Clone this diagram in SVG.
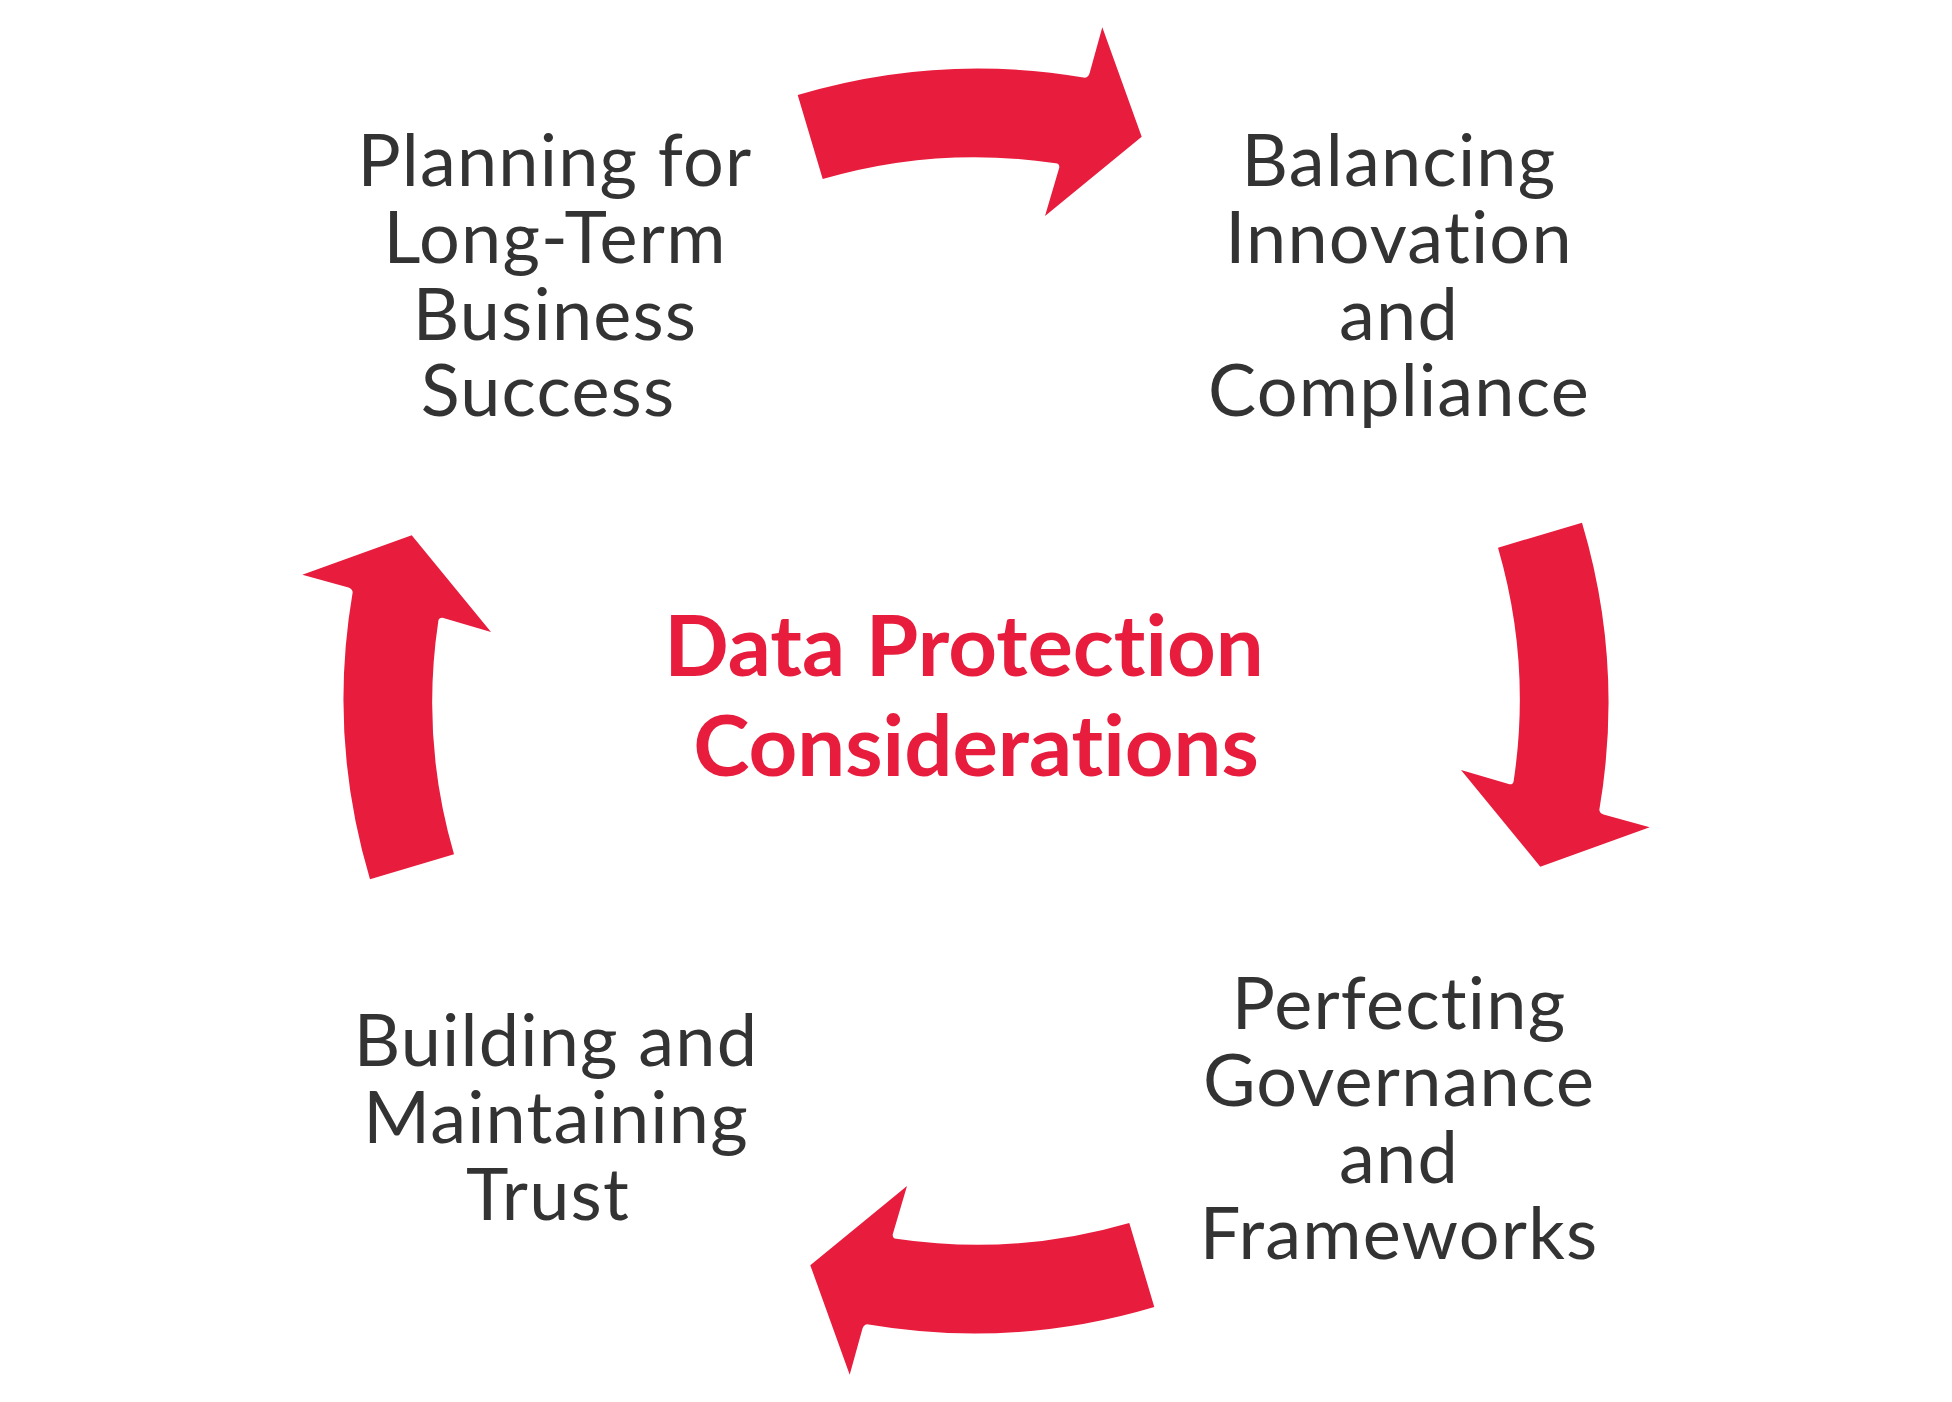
<svg xmlns="http://www.w3.org/2000/svg" xmlns:xlink="http://www.w3.org/1999/xlink" width="1952" height="1402" viewBox="0 0 1952 1402">
<style>
text{font-variant-ligatures:none;font-feature-settings:"liga" 0,"clig" 0,"dlig" 0}
.lbl{font-family:Lato,"Open Sans","Liberation Sans",sans-serif;font-size:72px;fill:#333333;text-anchor:middle;letter-spacing:1.2px}
.ctr{font-family:Lato,"Open Sans","Liberation Sans",sans-serif;font-size:85px;font-weight:bold;fill:#E81C3D;text-anchor:middle}
.arw{fill:#E81C3D}
</style>
<defs>
<path id="arrow" d="M 797.7 95 A 632 632 0 0 1 1085 77.7 Q 1088.5 77 1089.5 73.5 L 1102.3 27.3 L 1141.7 136.7 L 1045 216 L 1059.3 167.5 Q 1059.5 163.5 1055.7 163.3 A 544 544 0 0 0 822.7 179 Z"/>
</defs>
<rect width="1952" height="1402" fill="#ffffff"/>
<g id="connectors">
<use xlink:href="#arrow" href="#arrow" class="arw"/>
<use xlink:href="#arrow" href="#arrow" class="arw" transform="rotate(90 976 701)"/>
<use xlink:href="#arrow" href="#arrow" class="arw" transform="rotate(180 976 701)"/>
<use xlink:href="#arrow" href="#arrow" class="arw" transform="rotate(270 976 701)"/>
</g>
<g id="center">
<text class="ctr" x="964" y="676">Data Protection</text>
<text class="ctr" x="976" y="776">Considerations</text>
</g>
<g id="node-planning">
<text class="lbl" x="555" y="186">Planning for</text>
<text class="lbl" x="555" y="263">Long-Term</text>
<text class="lbl" x="555" y="340">Business</text>
<text class="lbl" x="548" y="416">Success</text>
</g>
<g id="node-balancing">
<text class="lbl" x="1399" y="186">Balancing</text>
<text class="lbl" x="1399" y="263">Innovation</text>
<text class="lbl" x="1399" y="340">and</text>
<text class="lbl" x="1399" y="416">Compliance</text>
</g>
<g id="node-perfecting">
<text class="lbl" x="1399" y="1029">Perfecting</text>
<text class="lbl" x="1399" y="1106">Governance</text>
<text class="lbl" x="1399" y="1183">and</text>
<text class="lbl" x="1399" y="1259">Frameworks</text>
</g>
<g id="node-building">
<text class="lbl" x="556" y="1066">Building and</text>
<text class="lbl" x="556" y="1143">Maintaining</text>
<text class="lbl" x="548" y="1220">Trust</text>
</g>
</svg>
